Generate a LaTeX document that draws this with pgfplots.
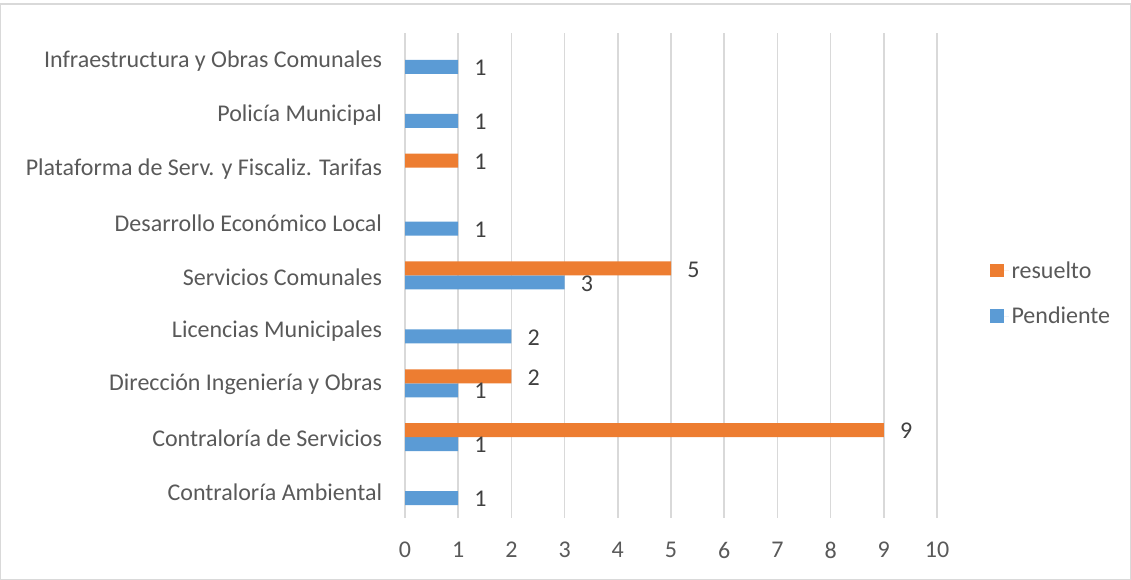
\documentclass[border=0pt]{standalone}
\usepackage{pgfplots}
\pgfplotsset{compat=1.18}
\usepackage{fontspec}
\setmainfont{Carlito}
\definecolor{cblue}{HTML}{5B9BD5}
\definecolor{corange}{HTML}{ED7D31}
\definecolor{cgrid}{HTML}{D9D9D9}
\definecolor{ctick}{HTML}{595959}
\definecolor{clabel}{HTML}{404040}
\begin{document}
\begin{tikzpicture}[font=\fontsize{18}{21.6}\selectfont]
\useasboundingbox (0,0) rectangle (848.25pt,435pt);
\draw[cgrid, line width=1pt] (0.5pt,0.5pt) rectangle (847.75pt,432pt);
\begin{axis}[
  at={(303.75pt,46.5pt)}, anchor=south west,
  scale only axis, width=399pt, height=363.75pt,
  xbar=0pt, bar width=10.5pt,
  xmin=0, xmax=10, ymin=-0.5, ymax=8.5,
  xtick={0,1,...,10},
  ytick={0,1,...,8},
  yticklabels={Contraloría Ambiental, Contraloría de Servicios, Dirección Ingeniería y Obras, Licencias Municipales, Servicios Comunales, Desarrollo Económico Local, Plataforma de Serv. y Fiscaliz. Tarifas, Policía Municipal, Infraestructura y Obras Comunales},
  yticklabel style={anchor=east, inner sep=0pt, xshift=-17pt, yshift=-1pt},
  axis line style={draw=none},
  major tick length=0pt,
  xmajorgrids, grid style={cgrid, line width=1.1pt},
  ticklabel style={text=ctick},
  xticklabel style={anchor=north, inner sep=0pt, yshift=-18pt},
  /pgf/number format/assume math mode=true,
  nodes near coords,
  every node near coord/.append style={text=clabel, anchor=west, inner sep=0pt, xshift=12pt, yshift=-0.75pt},
  legend style={draw=none, fill=none, at={(1.092,0.463)}, anchor=west, text=ctick,
    row sep=16pt, font=\fontsize{18}{21.6}\selectfont},
  legend cell align=left,
  reverse legend,
  legend image code/.code={\fill[#1] (0pt,-5pt) rectangle (10pt,5pt); \path (0pt,0pt) -- (14pt,0pt);},
]
\addplot[draw=none, fill=cblue] coordinates {(1,0) (1,1) (1,2) (2,3) (3,4) (1,5) (1,7) (1,8)};
\addplot[draw=none, fill=corange] coordinates {(9,1) (2,2) (5,4) (1,6)};
\legend{Pendiente, resuelto}
\end{axis}
\end{tikzpicture}
\end{document}
